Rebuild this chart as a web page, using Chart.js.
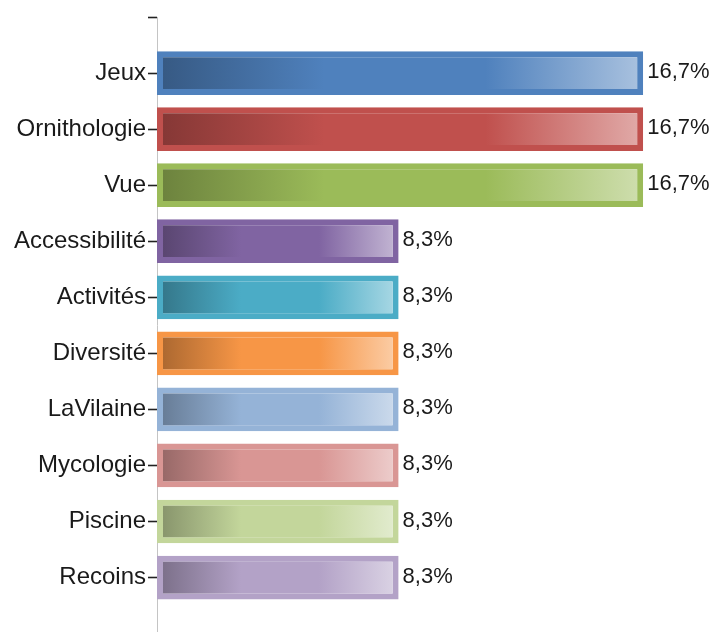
<!DOCTYPE html>
<html>
<head>
<meta charset="utf-8">
<script src="https://cdn.jsdelivr.net/npm/chart.js@4.4.1/dist/chart.umd.min.js"></script>
<style>
    body { margin: 0; background: #fff; overflow: hidden; }
    #wrap { width: 715px; height: 650px; }
</style>
</head>
<body>
<div id="wrap"><canvas id="barChart"></canvas></div>
<script>
// Categories and shares (percent)
const categories = ['Jeux', 'Ornithologie', 'Vue', 'Accessibilité', 'Activités', 'Diversité', 'LaVilaine', 'Mycologie', 'Piscine', 'Recoins'];
const shares = [16.7, 16.7, 16.7, 8.3, 8.3, 8.3, 8.3, 8.3, 8.3, 8.3];
const barColors = ['#4F81BD', '#C0504D', '#9BBB59', '#8064A2', '#4BACC6', '#F79646', '#95B3D7', '#D99694', '#C3D69B', '#B3A2C7'];

// empty slots above and below so the axis runs past the first and last bar
const labels = [''].concat(categories, ['']);
const values = [null].concat(shares, [null]);
const colors = [null].concat(barColors, [null]);

function hexToRgb(hex) {
    const n = parseInt(hex.slice(1), 16);
    return [(n >> 16) & 255, (n >> 8) & 255, n & 255];
}
function shade(hex, f) {
    const c = hexToRgb(hex).map(v => Math.round(v * f));
    return `rgb(${c[0]}, ${c[1]}, ${c[2]})`;
}
function tint(hex, f) {
    const c = hexToRgb(hex).map(v => Math.round(v + (255 - v) * f));
    return `rgb(${c[0]}, ${c[1]}, ${c[2]})`;
}

const BORDER = 6;

// dark -> base -> light fill across each bar
function barGradient(ctx) {
    const base = colors[ctx.dataIndex];
    const chart = ctx.chart;
    if (!base || !chart.chartArea || ctx.raw == null) return base;
    const x = chart.scales.x;
    const x0 = x.getPixelForValue(0) + BORDER;
    const x1 = x.getPixelForValue(ctx.raw) - BORDER;
    const g = chart.ctx.createLinearGradient(x0, 0, x1, 0);
    g.addColorStop(0, shade(base, 0.7));
    g.addColorStop(0.34, base);
    g.addColorStop(0.68, base);
    g.addColorStop(1, tint(base, 0.5));
    return g;
}

// Percent labels after each bar
const valueLabels = {
    id: 'valueLabels',
    afterDatasetsDraw(chart) {
        const c = chart.ctx;
        const meta = chart.getDatasetMeta(0);
        c.save();
        c.font = '22px "Liberation Sans", Arial, sans-serif';
        c.fillStyle = '#1a1a1a';
        c.textBaseline = 'middle';
        c.textAlign = 'left';
        meta.data.forEach((bar, i) => {
            const v = values[i];
            if (v == null) return;
            c.fillText(v.toFixed(1).replace('.', ',') + '%', bar.x + 4, bar.y - 1);
        });
        c.restore();
    }
};

const ctx = document.getElementById('barChart').getContext('2d');
const barChart = new Chart(ctx, {
    type: 'bar',
    data: {
        labels: labels,
        datasets: [{
            data: values,
            backgroundColor: barGradient,
            borderColor: colors,
            borderWidth: BORDER,
            borderSkipped: false,
            categoryPercentage: 1,
            barPercentage: 0.78
        }]
    },
    options: {
        indexAxis: 'y',
        responsive: true,
        maintainAspectRatio: false,
        animation: false,
        layout: { padding: { top: 17, bottom: 14, right: 34, left: 0 } },
        plugins: {
            legend: { display: false },
            tooltip: { enabled: false }
        },
        scales: {
            x: {
                display: false,
                min: 0,
                max: 18
            },
            y: {
                offset: false,
                afterFit(scale) { scale.width = 157; },
                grid: {
                    offset: false,
                    drawOnChartArea: false,
                    drawTicks: true,
                    tickLength: 9,
                    tickWidth: 1.6,
                    color: '#222'
                },
                border: { display: true, color: '#c4c4c4' },
                ticks: {
                    autoSkip: false,
                    padding: 2,
                    color: '#1a1a1a',
                    font: { family: '"Liberation Sans", Arial, sans-serif', size: 24 }
                }
            }
        }
    },
    plugins: [valueLabels]
});
</script>
</body>
</html>
